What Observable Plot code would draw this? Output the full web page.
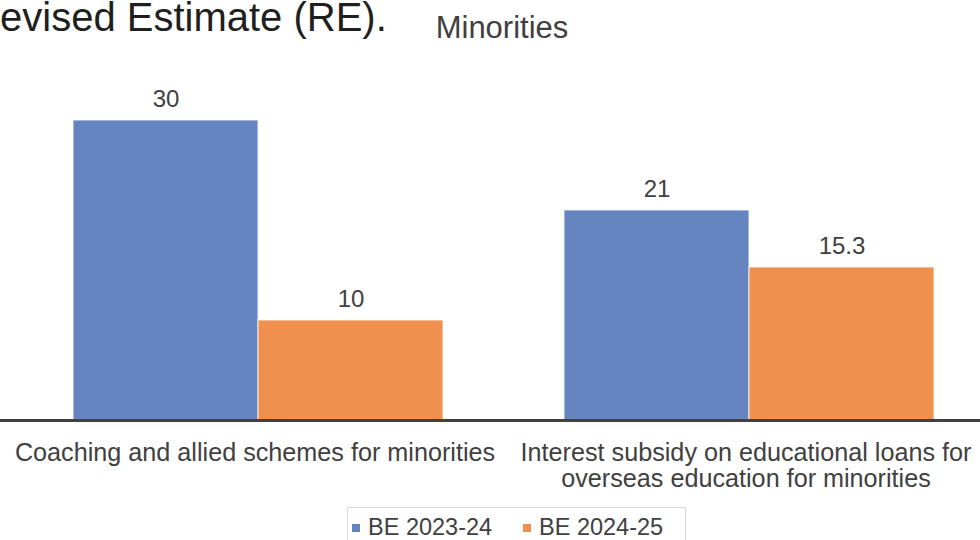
<!DOCTYPE html>
<html><head><meta charset="utf-8">
<script src="https://cdn.jsdelivr.net/npm/d3@7"></script>
<script src="https://cdn.jsdelivr.net/npm/@observablehq/plot@0.6"></script>
<style>
body{margin:0;background:#fff;font-family:"Liberation Sans",Arial,sans-serif;}
#wrap{position:relative;width:980px;height:540px;overflow:hidden;background:#fff;}
#head{position:absolute;left:0;top:0;font-size:40px;line-height:0.85;color:#1f1f1f;white-space:nowrap;}
#title{position:absolute;left:0;width:1004px;top:12px;text-align:center;font-size:31px;line-height:1;color:#404040;}
#base,#chart{position:absolute;left:0;top:0;}
#legend{position:absolute;left:347px;top:507px;width:339px;height:40px;border:1px solid #d9d9d9;box-sizing:border-box;}
.item{position:absolute;top:8px;font-size:23.5px;line-height:1;color:#404040;white-space:nowrap;}
.sw{display:inline-block;width:8px;height:8px;margin-right:8px;vertical-align:3px;}
</style>
</head><body>
<div id="wrap">
  <div id="base"></div>
  <div id="chart"></div>
  <div id="head">evised Estimate (RE).</div>
  <div id="title">Minorities</div>
  <div id="legend"></div>
</div>
<script>
const categories = ["Coaching and allied schemes for minorities", "Interest subsidy on educational loans for\noverseas education for minorities"];
const series = ["BE 2023-24", "BE 2024-25"];
const be2023 = [30, 21];
const be2024 = [10, 15.3];
const colors = ["#6584c0", "#f0904f"];

const data = categories.flatMap((c, i) => [
  {category: c, series: series[0], value: be2023[i]},
  {category: c, series: series[1], value: be2024[i]}
]);

const common = {
  width: 980, height: 500,
  marginTop: 100, marginBottom: 80, marginLeft: 0, marginRight: 0,
  style: {fontFamily: "'Liberation Sans', Arial, sans-serif", background: "transparent"},
  y: {domain: [0, 32], axis: null}
};

// baseline axis line spanning the whole width
const base = Plot.plot({
  ...common,
  marks: [Plot.ruleY([0], {stroke: "#404040", strokeWidth: 3})]
});
document.getElementById("base").appendChild(base);

const chart = Plot.plot({
  ...common,
  fx: {domain: categories, range: [11.5, 993.5], padding: 0, axis: null, label: null},
  x: {domain: series, paddingInner: 0, paddingOuter: 0.32, axis: null, label: null},
  color: {domain: series, range: colors},
  marks: [
    Plot.barY(data, {fx: "category", x: "series", y: "value", fill: "series", stroke: "white", strokeOpacity: 0.55, strokeWidth: 1.5}),
    Plot.text(data, {fx: "category", x: "series", y: "value", text: "value", dy: -14, lineAnchor: "bottom", fontSize: 24, fill: "#404040"}),
    Plot.text(categories, {fx: d => d, text: d => d, frameAnchor: "bottom", lineAnchor: "top", dy: 22, dx: -3, fontSize: 25.2, lineHeight: 1.04, fill: "#404040"}),
    Plot.ruleY([0], {stroke: "#404040", strokeWidth: 3})
  ]
});
document.getElementById("chart").appendChild(chart);

const legend = document.getElementById("legend");
const lefts = [4, 175];
series.forEach((s, i) => {
  const it = document.createElement("div");
  it.className = "item";
  it.style.left = lefts[i] + "px";
  const sw = document.createElement("span");
  sw.className = "sw";
  sw.style.background = colors[i];
  it.appendChild(sw);
  it.appendChild(document.createTextNode(s));
  legend.appendChild(it);
});
</script>
</body></html>
